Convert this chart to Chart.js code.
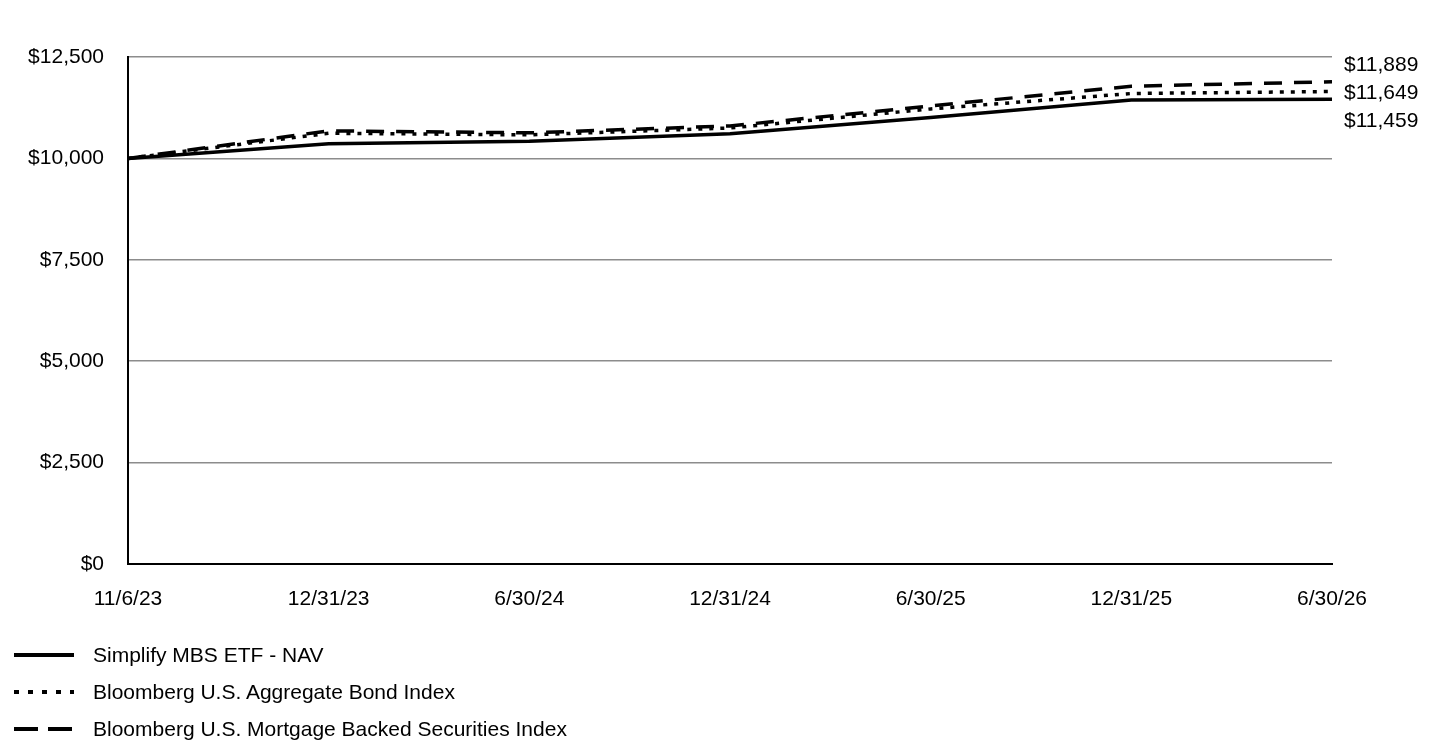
<!DOCTYPE html>
<html>
<head>
<meta charset="utf-8">
<script src="https://cdn.jsdelivr.net/npm/chart.js@4.4.1/dist/chart.umd.min.js"></script>
<style>
  html, body { margin: 0; padding: 0; background: #fff; }
  body { width: 1440px; height: 744px; position: relative; overflow: hidden; font-family: "Liberation Sans", Arial, sans-serif; }
  #wrap { position: absolute; left: 0; top: 0; width: 1440px; height: 744px; }
  #legend { position: absolute; left: 14px; top: 636px; }
  .item { height: 37px; display: flex; align-items: center; font-size: 21px; color: #000; }
  .item svg { width: 62px; height: 10px; margin-right: 17px; }
</style>
</head>
<body>
<div id="wrap"><canvas id="chart"></canvas></div>
<div id="legend"></div>
<script>
// categories and series (growth of $10,000)
const dates = ['11/6/23', '12/31/23', '6/30/24', '12/31/24', '6/30/25', '12/31/25', '6/30/26'];
const navValues = [10000, 10360, 10420, 10605, 11006, 11440, 11459];
const aggValues = [10000, 10620, 10580, 10750, 11220, 11600, 11649];
const mbsValues = [10000, 10680, 10630, 10800, 11294, 11780, 11889];
const seriesNames = ['Simplify MBS ETF - NAV', 'Bloomberg U.S. Aggregate Bond Index', 'Bloomberg U.S. Mortgage Backed Securities Index'];
const yTicks = [0, 2500, 5000, 7500, 10000, 12500];

const fmt = v => '$' + v.toLocaleString('en-US');
const FONT = '"Liberation Sans", Arial, sans-serif';

// end-of-line value labels, spread out so they don't overlap
const endLabels = {
    id: 'endLabels',
    afterDatasetsDraw(chart) {
        const ctx = chart.ctx;
        const y = chart.scales.y;
        const last = dates.length - 1;
        const mid = y.getPixelForValue(aggValues[last]) + 1;
        const items = [
            [mbsValues[last], mid - 28],
            [aggValues[last], mid],
            [navValues[last], mid + 28]
        ];
        ctx.save();
        ctx.font = '21px ' + FONT;
        ctx.fillStyle = '#000';
        ctx.textAlign = 'left';
        ctx.textBaseline = 'middle';
        items.forEach(([v, py]) => ctx.fillText(fmt(v), chart.chartArea.right + 12, py + 1));
        ctx.restore();
    }
};

new Chart(document.getElementById('chart'), {
    type: 'line',
    data: {
        labels: dates,
        datasets: [
            { label: seriesNames[0], data: navValues, borderColor: '#000', borderWidth: 3.5, pointRadius: 0, tension: 0 },
            { label: seriesNames[1], data: aggValues, borderColor: '#000', borderWidth: 3.5, borderDash: [4, 7], pointRadius: 0, tension: 0 },
            { label: seriesNames[2], data: mbsValues, borderColor: '#000', borderWidth: 3.5, borderDash: [18, 12], pointRadius: 0, tension: 0 }
        ]
    },
    options: {
        responsive: true,
        maintainAspectRatio: false,
        animation: false,
        layout: { padding: { left: 0, right: 108, top: 57, bottom: 130 } },
        scales: {
            x: {
                offset: false,
                grid: { display: false, drawTicks: false },
                border: { color: '#000', width: 2 },
                ticks: { color: '#000', font: { size: 21, family: FONT }, padding: 23, maxRotation: 0, autoSkip: false },
                afterFit(scale) { scale.height = 50; }
            },
            y: {
                min: 0,
                max: 12500,
                afterBuildTicks(scale) { scale.ticks = yTicks.map(v => ({ value: v })); },
                grid: { color: '#8c8c8c', lineWidth: 1.5, drawTicks: false },
                border: { color: '#000', width: 2 },
                ticks: { color: '#000', font: { size: 21, family: FONT }, padding: 24, callback: v => fmt(v) },
                afterFit(scale) { scale.width = 128; }
            }
        },
        plugins: {
            legend: { display: false },
            tooltip: { enabled: false }
        }
    },
    plugins: [endLabels]
});

// legend below the chart
const dashes = ['', '5 9', '24 10'];
const legend = document.getElementById('legend');
seriesNames.forEach((name, i) => {
    const div = document.createElement('div');
    div.className = 'item';
    div.innerHTML = '<svg viewBox="0 0 62 10"><line x1="0" y1="5" x2="60" y2="5" stroke="#000" stroke-width="4"' +
        (dashes[i] ? ' stroke-dasharray="' + dashes[i] + '"' : '') + '/></svg><span>' + name + '</span>';
    legend.appendChild(div);
});
</script>
</body>
</html>
